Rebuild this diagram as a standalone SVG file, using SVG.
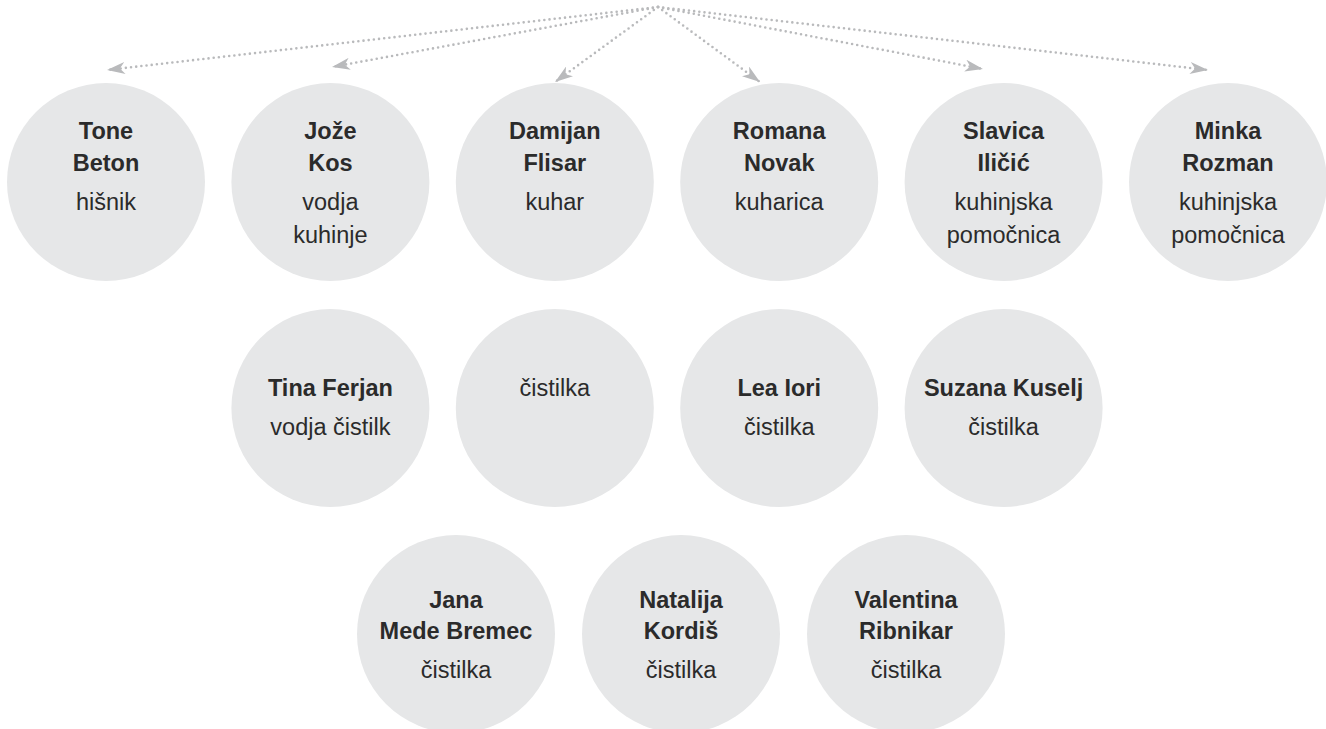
<svg xmlns="http://www.w3.org/2000/svg" width="1326" height="729" viewBox="0 0 1326 729">
<style>
  .node circle { fill: #e6e7e8; }
  .node text { font-family: "Liberation Sans", Arial, sans-serif; font-size: 23.5px; fill: #2b2b2b; text-anchor: middle; }
  .node .name { font-weight: bold; }
  .conn line { stroke: #b9babc; stroke-width: 2.6; stroke-dasharray: 0 5.2; stroke-linecap: round; fill: none; }
</style>
<defs>
  <marker id="arr" markerUnits="userSpaceOnUse" markerWidth="18" markerHeight="12" refX="18" refY="6" orient="auto" viewBox="0 0 18 12">
    <path d="M0,0 L18,6 L0,12 L5,6 Z" fill="#b9babc"/>
  </marker>
</defs>
<rect width="1326" height="729" fill="#ffffff"/>
<g id="connectors" class="conn">
  <line x1="658" y1="7" x2="107" y2="70" marker-end="url(#arr)"/>
  <line x1="658" y1="7" x2="332" y2="67" marker-end="url(#arr)"/>
  <line x1="658" y1="7" x2="555" y2="82" marker-end="url(#arr)"/>
  <line x1="658" y1="7" x2="760" y2="82" marker-end="url(#arr)"/>
  <line x1="658" y1="7" x2="983" y2="69" marker-end="url(#arr)"/>
  <line x1="658" y1="7" x2="1208" y2="70" marker-end="url(#arr)"/>
</g>
<g id="tone-beton" class="node">
  <circle cx="106" cy="182" r="99"/>
  <text class="name" x="106" y="139">Tone</text>
  <text class="name" x="106" y="171">Beton</text>
  <text x="106" y="210">hišnik</text>
</g>
<g id="joze-kos" class="node">
  <circle cx="330.4" cy="182" r="99"/>
  <text class="name" x="330.4" y="139">Jože</text>
  <text class="name" x="330.4" y="171">Kos</text>
  <text x="330.4" y="210">vodja</text>
  <text x="330.4" y="243">kuhinje</text>
</g>
<g id="damijan-flisar" class="node">
  <circle cx="554.8" cy="182" r="99"/>
  <text class="name" x="554.8" y="139">Damijan</text>
  <text class="name" x="554.8" y="171">Flisar</text>
  <text x="554.8" y="210">kuhar</text>
</g>
<g id="romana-novak" class="node">
  <circle cx="779.2" cy="182" r="99"/>
  <text class="name" x="779.2" y="139">Romana</text>
  <text class="name" x="779.2" y="171">Novak</text>
  <text x="779.2" y="210">kuharica</text>
</g>
<g id="slavica-ilicic" class="node">
  <circle cx="1003.6" cy="182" r="99"/>
  <text class="name" x="1003.6" y="139">Slavica</text>
  <text class="name" x="1003.6" y="171">Iličić</text>
  <text x="1003.6" y="210">kuhinjska</text>
  <text x="1003.6" y="243">pomočnica</text>
</g>
<g id="minka-rozman" class="node">
  <circle cx="1228" cy="182" r="99"/>
  <text class="name" x="1228" y="139">Minka</text>
  <text class="name" x="1228" y="171">Rozman</text>
  <text x="1228" y="210">kuhinjska</text>
  <text x="1228" y="243">pomočnica</text>
</g>
<g id="tina-ferjan" class="node">
  <circle cx="330.4" cy="408" r="99"/>
  <text class="name" x="330.4" y="396">Tina Ferjan</text>
  <text x="330.4" y="435">vodja čistilk</text>
</g>
<g id="cistilka" class="node">
  <circle cx="554.8" cy="408" r="99"/>
  <text x="554.8" y="396">čistilka</text>
</g>
<g id="lea-iori" class="node">
  <circle cx="779.2" cy="408" r="99"/>
  <text class="name" x="779.2" y="396">Lea Iori</text>
  <text x="779.2" y="435">čistilka</text>
</g>
<g id="suzana-kuselj" class="node">
  <circle cx="1003.6" cy="408" r="99"/>
  <text class="name" x="1003.6" y="396">Suzana Kuselj</text>
  <text x="1003.6" y="435">čistilka</text>
</g>
<g id="jana-mede-bremec" class="node">
  <circle cx="456" cy="634" r="99"/>
  <text class="name" x="456" y="608">Jana</text>
  <text class="name" x="456" y="639">Mede Bremec</text>
  <text x="456" y="678">čistilka</text>
</g>
<g id="natalija-kordis" class="node">
  <circle cx="681" cy="634" r="99"/>
  <text class="name" x="681" y="608">Natalija</text>
  <text class="name" x="681" y="639">Kordiš</text>
  <text x="681" y="678">čistilka</text>
</g>
<g id="valentina-ribnikar" class="node">
  <circle cx="906" cy="634" r="99"/>
  <text class="name" x="906" y="608">Valentina</text>
  <text class="name" x="906" y="639">Ribnikar</text>
  <text x="906" y="678">čistilka</text>
</g>
</svg>
